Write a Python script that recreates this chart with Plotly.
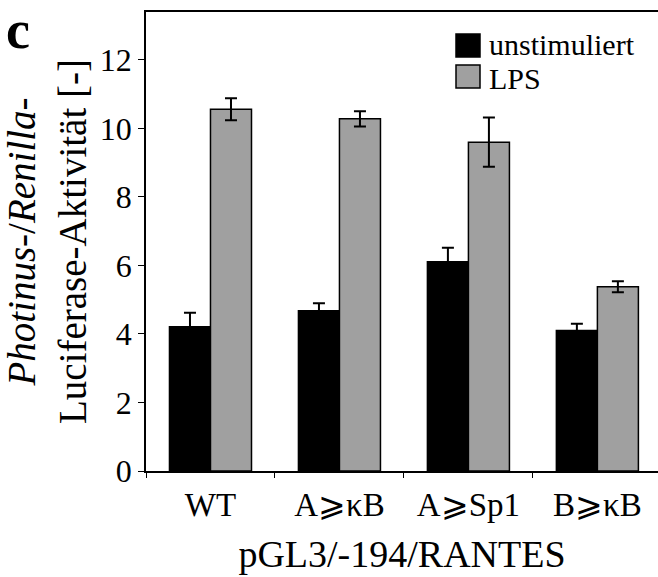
import plotly.graph_objects as go

categories = ["WT", "A⩾κB", "A⩾Sp1", "B⩾κB"]
series_names = ["unstimuliert", "LPS"]
unstim = [4.21, 4.68, 6.11, 4.10]
unstim_err = [0.41, 0.22, 0.41, 0.20]
lps = [10.56, 10.28, 9.60, 5.38]
lps_err = [0.32, 0.22, 0.72, 0.16]
colors = ["#000000", "#a0a0a0"]
y_ticks = [0, 2, 4, 6, 8, 10, 12]

FONT = "Liberation Serif"
W, H = 658, 577
ML, MR, MT, MB = 146, 0, 12, 106

fig = go.Figure()
for name, vals, errs, col in zip(series_names, [unstim, lps], [unstim_err, lps_err], colors):
    fig.add_trace(go.Bar(
        x=categories, y=vals, name=name,
        marker=dict(color=col, line=dict(color="#000000", width=1.5)),
        error_y=dict(type="data", array=errs, visible=True, color="#000000",
                     thickness=2, width=6),
        showlegend=False,
    ))

fig.update_layout(
    width=W, height=H,
    margin=dict(l=ML, r=MR, t=MT, b=MB, pad=0),
    paper_bgcolor="white", plot_bgcolor="white",
    barmode="group", bargap=0.364, bargroupgap=0,
    font=dict(family=FONT, color="#000000", size=32),
)
fig.update_xaxes(
    type="category", range=[-0.5, 3.47],
    showline=True, linecolor="#000000", linewidth=1.5, mirror=True,
    ticks="outside", tickson="boundaries", ticklen=5, tickwidth=1, tickcolor="#000000",
    ticklabelstandoff=4,
    showgrid=False, zeroline=False,
    tickfont=dict(family=FONT, size=33),
    title=dict(text="pGL3/-194/RANTES", font=dict(family=FONT, size=38), standoff=18),
)
fig.update_yaxes(
    range=[0, 13.4], tickvals=y_ticks,
    showline=True, linecolor="#000000", linewidth=1.5,
    ticks="outside", ticklen=6, tickwidth=1, tickcolor="#000000",
    showgrid=False, zeroline=False,
    tickfont=dict(family=FONT, size=32),
    title=dict(text="<i>Photinus</i>-/<i>Renilla</i>-<br>Luciferase-Aktivität [-]",
               font=dict(family=FONT, size=39), standoff=4),
)

# manual legend (larger swatches than plotly's built-in legend)
ph = H - MT - MB
pw = W - ML - MR
def px2x(px):
    return (px - ML) / pw
def py2y(py):
    return (H - MB - py) / ph

swatches = [(34, 57), (65, 88)]
text_centers = [44, 78]
for (t, b), tc, name, col in zip(swatches, text_centers, series_names, colors):
    fig.add_shape(type="rect", xref="paper", yref="paper",
                  x0=px2x(456), x1=px2x(480), y0=py2y(b), y1=py2y(t),
                  fillcolor=col, line=dict(color="#000000", width=1.5))
    fig.add_annotation(xref="paper", yref="paper", x=px2x(487), y=py2y(tc),
                       text=name, showarrow=False, xanchor="left", yanchor="middle",
                       font=dict(family=FONT, size=30))

fig.add_annotation(xref="paper", yref="paper", x=px2x(4), y=py2y(30),
                   text="<b>c</b>", showarrow=False, xanchor="left", yanchor="middle",
                   font=dict(family=FONT, size=54))

fig.write_html("out.html")
